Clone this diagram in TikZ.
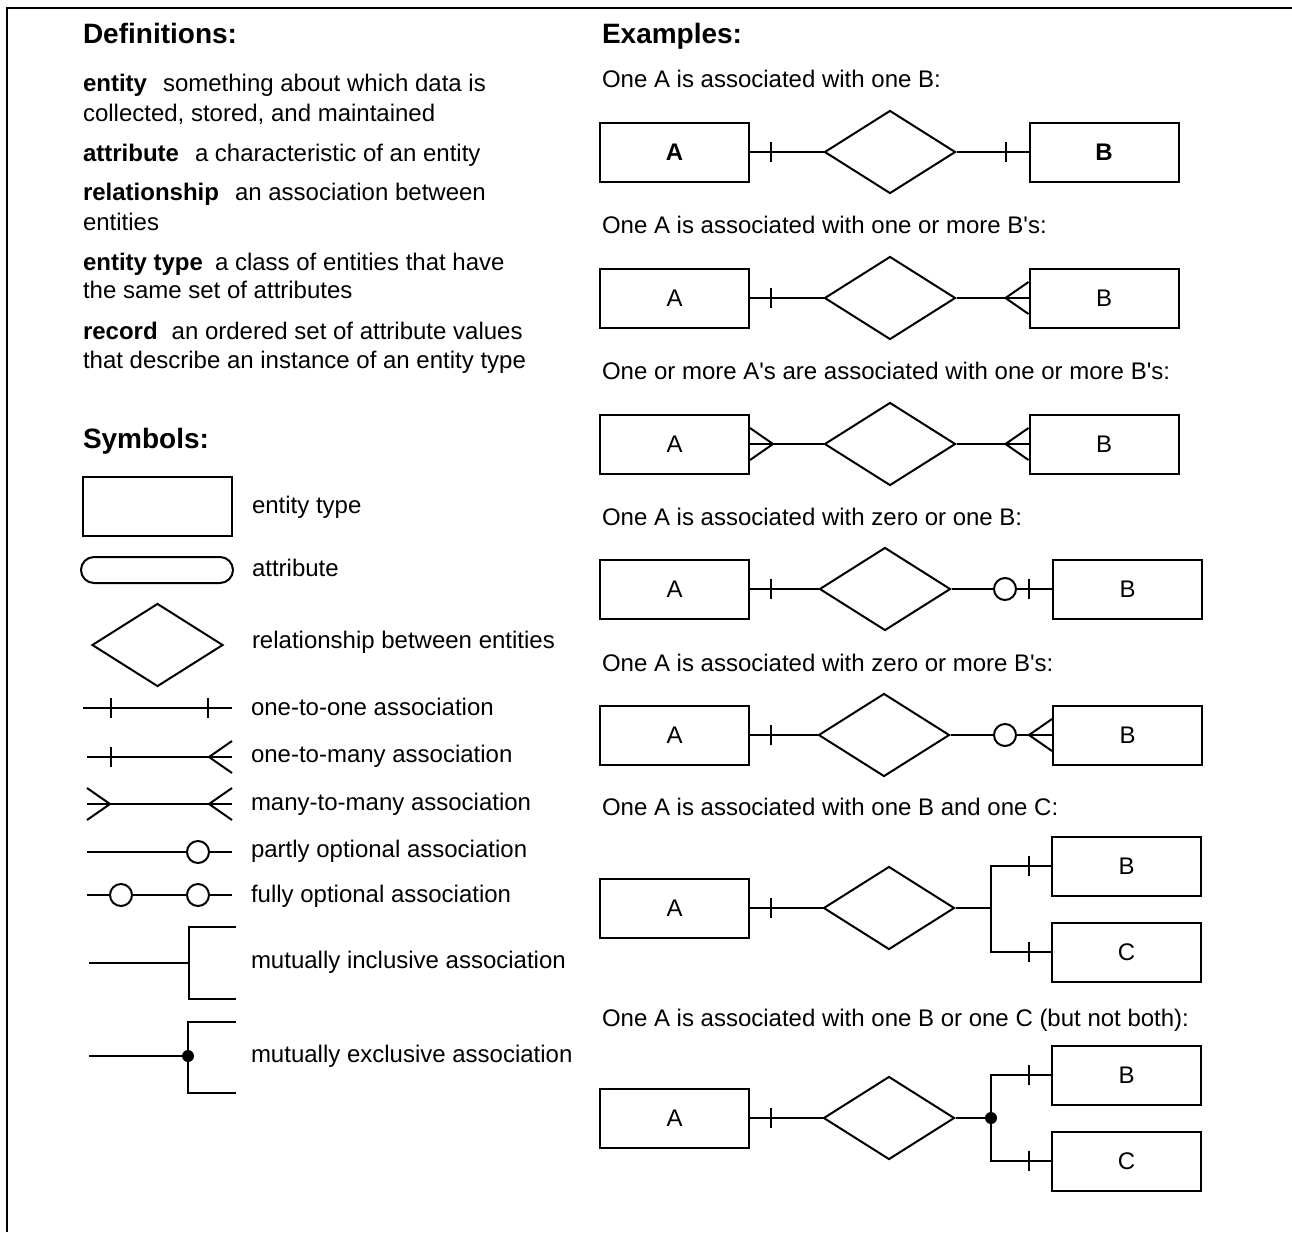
\documentclass[tikz,border=0pt]{standalone}
\usepackage{fontspec}
\setmainfont{Liberation Sans}
\usetikzlibrary{shapes.geometric}

\tikzset{
    txt/.style={anchor=base west, inner sep=0pt, font=\fontsize{24}{29}\selectfont},
    head/.style={txt, font=\fontsize{28}{34}\selectfont\bfseries},
    entbox/.style={draw, minimum width=149pt, minimum height=59pt, inner sep=0pt, font=\fontsize{24}{29}\selectfont},
    rel/.style={draw, diamond, minimum width=131pt, minimum height=83pt, inner sep=0pt},
    attr/.style={draw, rounded corners=13pt, minimum width=152pt, minimum height=26pt, inner sep=0pt},
    bar/.pic={\draw (0,-10) -- (0,10);},
    crow/.pic={\draw (-23,0) -- (0,-16) (-23,0) -- (0,16);},
    ring/.pic={\draw[fill=white] (0,0) circle (11);}
}
\newcommand{\aps}{\textquotesingle}

\begin{document}
\begin{tikzpicture}[x=1pt, y=-1pt, line width=2pt]
    \useasboundingbox (0,0) rectangle (1292,1232);

    % Cadre
    \draw (7,1232) -- (7,8) -- (1292,8);

    % Definitions
    \node[head] (defs) at (82,43) {Definitions:};
    \node[txt] (d1) at (82,91) {\textbf{entity}\hspace{16pt}something about which data is};
    \node[txt] (d1b) at (82,121) {collected, stored, and maintained};
    \node[txt] (d2) at (82,161) {\textbf{attribute}\hspace{16pt}a characteristic of an entity};
    \node[txt] (d3) at (82,200) {\textbf{relationship}\hspace{16pt}an association between};
    \node[txt] (d3b) at (82,230) {entities};
    \node[txt] (d4) at (82,270) {\textbf{entity type}\hspace{12pt}a class of entities that have};
    \node[txt] (d4b) at (82,298) {the same set of attributes};
    \node[txt] (d5) at (82,339) {\textbf{record}\hspace{14pt}an ordered set of attribute values};
    \node[txt] (d5b) at (82,368) {that describe an instance of an entity type};

    % Symbols
    \node[head] (syms) at (82,448) {Symbols:};
    \node[entbox] (s1) at (157.5,506) {};
    \node[attr] (s2) at (157,570) {};
    \node[rel] (s3) at (157.5,645) {};

    \foreach \n/\xa/\y in {1/83/708, 2/87/757, 3/87/804, 4/87/852, 5/87/895} {
        \coordinate (l\n a) at (\xa,\y);
        \coordinate (l\n b) at (232,\y);
        \draw (l\n a) -- (l\n b);
    }
    \pic at (111,708) {bar}; \pic at (208,708) {bar};
    \pic at (111,757) {bar}; \pic at (l2b) {crow};
    \pic[rotate=180] at (l3a) {crow}; \pic at (l3b) {crow};
    \pic at (198,852) {ring};
    \pic at (121,895) {ring}; \pic at (198,895) {ring};

    % mutually inclusive / exclusive
    \coordinate (mi0) at (89,963); \coordinate (mi) at (189,963);
    \coordinate (mi1) at (236,927); \coordinate (mi2) at (236,999);
    \draw (mi0) -- (mi);
    \draw (mi1) -| (mi) |- (mi2);
    \coordinate (me0) at (89,1056); \coordinate (me) at (188,1056);
    \coordinate (me1) at (236,1022); \coordinate (me2) at (236,1093);
    \draw (me0) -- (me);
    \draw (me1) -| (me) |- (me2);
    \fill (me) circle (6);

    \node[txt] (t1) at (251,513) {entity type};
    \node[txt] (t2) at (251,576) {attribute};
    \node[txt] (t3) at (251,648) {relationship between entities};
    \node[txt] (t4) at (250,715) {one-to-one association};
    \node[txt] (t5) at (250,762) {one-to-many association};
    \node[txt] (t6) at (250,810) {many-to-many association};
    \node[txt] (t7) at (250,857) {partly optional association};
    \node[txt] (t8) at (250,902) {fully optional association};
    \node[txt] (t9) at (250,968) {mutually inclusive association};
    \node[txt] (t10) at (250,1062) {mutually exclusive association};

    % Examples
    \node[head] (exs) at (601,43) {Examples:};
    \node[txt] (e1) at (601,87) {One A is associated with one B:};
    \node[txt] (e2) at (601,233) {One A is associated with one or more B\aps s:};
    \node[txt] (e3) at (601,379) {One or more A\aps s are associated with one or more B\aps s:};
    \node[txt] (e4) at (601,525) {One A is associated with zero or one B:};
    \node[txt] (e5) at (601,671) {One A is associated with zero or more B\aps s:};
    \node[txt] (e6) at (601,815) {One A is associated with one B and one C:};
    \node[txt] (e7) at (601,1026) {One A is associated with one B or one C (but not both):};

    % 1
    \node[entbox] (a1) at (674.5,152) {\textbf{A}};
    \node[rel] (r1) at (890,152) {};
    \node[entbox] (b1) at (1104,152) {\textbf{B}};
    \draw (a1) -- (r1); \draw (r1) -- (b1);
    \pic at ([xshift=21pt]a1.east) {bar};
    \pic at ([xshift=-23pt]b1.west) {bar};

    % 2
    \node[entbox] (a2) at (674.5,298) {A};
    \node[rel] (r2) at (890,298) {};
    \node[entbox] (b2) at (1104,298) {B};
    \draw (a2) -- (r2); \draw (r2) -- (b2);
    \pic at ([xshift=21pt]a2.east) {bar};
    \pic at (b2.west) {crow};

    % 3
    \node[entbox] (a3) at (674.5,444) {A};
    \node[rel] (r3) at (890,444) {};
    \node[entbox] (b3) at (1104,444) {B};
    \draw (a3) -- (r3); \draw (r3) -- (b3);
    \pic[rotate=180] at (a3.east) {crow};
    \pic at (b3.west) {crow};

    % 4
    \node[entbox] (a4) at (674.5,589) {A};
    \node[rel] (r4) at (885,589) {};
    \node[entbox] (b4) at (1127.5,589) {B};
    \draw (a4) -- (r4); \draw (r4) -- (b4);
    \pic at ([xshift=21pt]a4.east) {bar};
    \pic at ([xshift=-23pt]b4.west) {bar};
    \pic at ([xshift=-47pt]b4.west) {ring};

    % 5
    \node[entbox] (a5) at (674.5,735) {A};
    \node[rel] (r5) at (884,735) {};
    \node[entbox] (b5) at (1127.5,735) {B};
    \draw (a5) -- (r5); \draw (r5) -- (b5);
    \pic at ([xshift=21pt]a5.east) {bar};
    \pic at ([xshift=-47pt]b5.west) {ring};
    \pic at (b5.west) {crow};

    % 6
    \node[entbox] (a6) at (674.5,908) {A};
    \node[rel] (r6) at (889,908) {};
    \node[entbox] (b6) at (1126.5,866) {B};
    \node[entbox] (c6) at (1126.5,952) {C};
    \coordinate (j6) at (991,908);
    \draw (a6) -- (r6); \draw (r6) -- (j6);
    \draw (b6.west) -| (j6) |- (c6.west);
    \pic at ([xshift=21pt]a6.east) {bar};
    \pic at ([xshift=-22pt]b6.west) {bar};
    \pic at ([xshift=-22pt]c6.west) {bar};

    % 7
    \node[entbox] (a7) at (674.5,1118) {A};
    \node[rel] (r7) at (889,1118) {};
    \node[entbox] (b7) at (1126.5,1075) {B};
    \node[entbox] (c7) at (1126.5,1161) {C};
    \coordinate (j7) at (991,1118);
    \draw (a7) -- (r7); \draw (r7) -- (j7);
    \draw (b7.west) -| (j7) |- (c7.west);
    \fill (j7) circle (6);
    \pic at ([xshift=21pt]a7.east) {bar};
    \pic at ([xshift=-22pt]b7.west) {bar};
    \pic at ([xshift=-22pt]c7.west) {bar};
\end{tikzpicture}
\end{document}
